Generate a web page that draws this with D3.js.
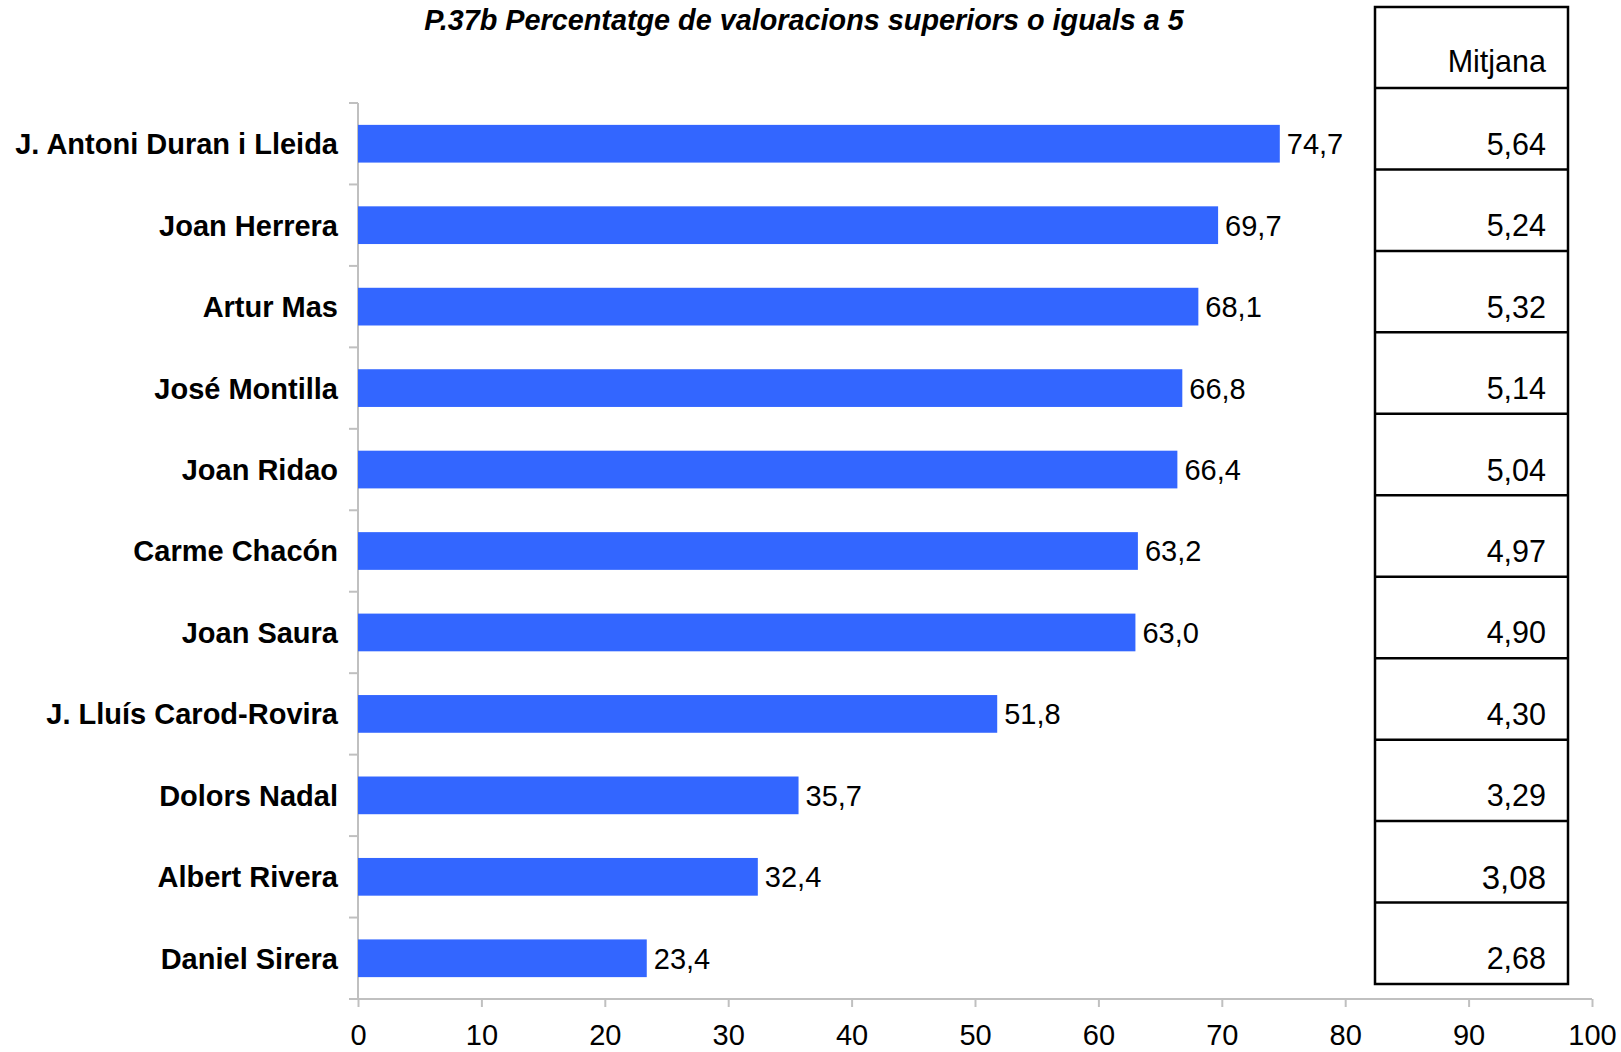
<!DOCTYPE html>
<html>
<head>
<meta charset="utf-8">
<script src="https://cdn.jsdelivr.net/npm/d3@7"></script>
<style>
body { margin:0; background:#fff; }
svg { font-family: Arial, "Liberation Sans", sans-serif; }
.title { font-weight:bold; font-style:italic; font-size:28.8px; }
.cat { font-weight:bold; font-size:29px; }
.val { font-size:29px; }
.axis path, .axis line { stroke:#c0c0c0; stroke-width:2; }
.axis text { font-size:29px; fill:#000; }
.tbl { fill:none; stroke:#000; stroke-width:2.5; }
.tbltext { font-size:30.5px; }
</style>
</head>
<body>
<svg></svg>
<script>
var titleText = "P.37b Percentatge de valoracions superiors o iguals a 5";
var candidates = ["J. Antoni Duran i Lleida","Joan Herrera","Artur Mas","José Montilla","Joan Ridao",
                  "Carme Chacón","Joan Saura","J. Lluís Carod-Rovira","Dolors Nadal","Albert Rivera","Daniel Sirera"];
var pctValues = [74.7,69.7,68.1,66.8,66.4,63.2,63.0,51.8,35.7,32.4,23.4];
var meanValues = [5.64,5.24,5.32,5.14,5.04,4.97,4.90,4.30,3.29,3.08,2.68];
var xTicks = [0,10,20,30,40,50,60,70,80,90,100];
var tableHeader = "Mitjana";

var screen = {width:1621,height:1052}
var margins = {left:358,right:29,top:103,bottom:53}
var graph =
        {
            width:screen.width-margins.left-margins.right,
            height:screen.height-margins.top-margins.bottom
        }

var comma = function(v,digits)
{
    return v.toFixed(digits).replace(".",",");
}

var svg = d3.select("svg")
    .attr("width",screen.width)
    .attr("height",screen.height)

var xScale = d3.scaleLinear()
        .domain([0,100])
        .range([0,graph.width])
var yScale = d3.scaleBand()
        .domain(candidates)
        .range([0,graph.height])
        .paddingInner(0.537)
        .paddingOuter(0.537/2)

var step = yScale.step();
var boundary = function(c)
{
    return yScale(c)-step*yScale.paddingOuter();
}

// title
svg.append("text")
    .classed("title",true)
    .attr("text-anchor","middle")
    .attr("x",804)
    .attr("y",30)
    .text(titleText)

var target = svg.append("g")
    .attr("transform","translate("+margins.left+","+margins.top+")");

// y axis line + ticks at band boundaries
var yAxis = target.append("g").classed("axis",true)
yAxis.append("path")
    .attr("d","M0,0V"+graph.height)
yAxis.selectAll("line")
    .data(candidates.concat(["__end"]))
    .enter()
    .append("line")
    .attr("x1",-9)
    .attr("x2",0)
    .attr("y1",function(c){ return c=="__end" ? graph.height : boundary(c); })
    .attr("y2",function(c){ return c=="__end" ? graph.height : boundary(c); })

// x axis
var xAxis = d3.axisBottom(xScale)
    .tickValues(xTicks)
    .tickSize(8)
    .tickPadding(17)
    .tickSizeOuter(0)
target.append("g")
    .classed("axis",true)
    .attr("transform","translate(0,"+graph.height+")")
    .call(xAxis)
    .call(function(g){ g.select(".domain").attr("d","M-9,0H"+graph.width); })
    .selectAll("text").attr("font-family",null)

// bars
target.selectAll("rect.bar")
    .data(candidates)
    .enter()
    .append("rect")
    .classed("bar",true)
    .attr("x",0)
    .attr("y",function(c){ return yScale(c); })
    .attr("width",function(c,i){ return xScale(pctValues[i]); })
    .attr("height",yScale.bandwidth())
    .attr("fill","#3366ff")

// value labels
target.selectAll("text.val")
    .data(candidates)
    .enter()
    .append("text")
    .classed("val",true)
    .attr("x",function(c,i){ return xScale(pctValues[i])+7; })
    .attr("y",function(c){ return yScale(c)+yScale.bandwidth()/2; })
    .attr("dy","0.36em")
    .text(function(c,i){ return comma(pctValues[i],1); })

// category labels
target.selectAll("text.cat")
    .data(candidates)
    .enter()
    .append("text")
    .classed("cat",true)
    .attr("text-anchor","end")
    .attr("x",-20)
    .attr("y",function(c){ return yScale(c)+yScale.bandwidth()/2; })
    .attr("dy","0.36em")
    .text(function(c){ return c; })

// table of means
var tblLeft = 1375-margins.left, tblRight = 1568-margins.left, tblShift = 15;
var tblTop = 7-margins.top;
var tbl = target.append("g")
tbl.append("rect")
    .classed("tbl",true)
    .attr("x",tblLeft)
    .attr("y",tblTop)
    .attr("width",tblRight-tblLeft)
    .attr("height",graph.height-tblShift-tblTop)
tbl.selectAll("line")
    .data(candidates)
    .enter()
    .append("line")
    .classed("tbl",true)
    .attr("x1",tblLeft)
    .attr("x2",tblRight)
    .attr("y1",function(c){ return boundary(c)-tblShift; })
    .attr("y2",function(c){ return boundary(c)-tblShift; })
tbl.append("text")
    .classed("tbltext",true)
    .attr("text-anchor","end")
    .attr("x",tblRight-22)
    .attr("y",72-margins.top)
    .text(tableHeader)
tbl.selectAll("text.mean")
    .data(candidates)
    .enter()
    .append("text")
    .classed("tbltext mean",true)
    .attr("text-anchor","end")
    .attr("x",tblRight-22)
    .attr("y",function(c){ return yScale(c)+yScale.bandwidth()/2; })
    .attr("dy","0.36em")
    .text(function(c,i){ return comma(meanValues[i],2); })
    .filter(function(c){ return c=="Albert Rivera"; })
    .style("font-size","33px")
</script>
</body>
</html>
